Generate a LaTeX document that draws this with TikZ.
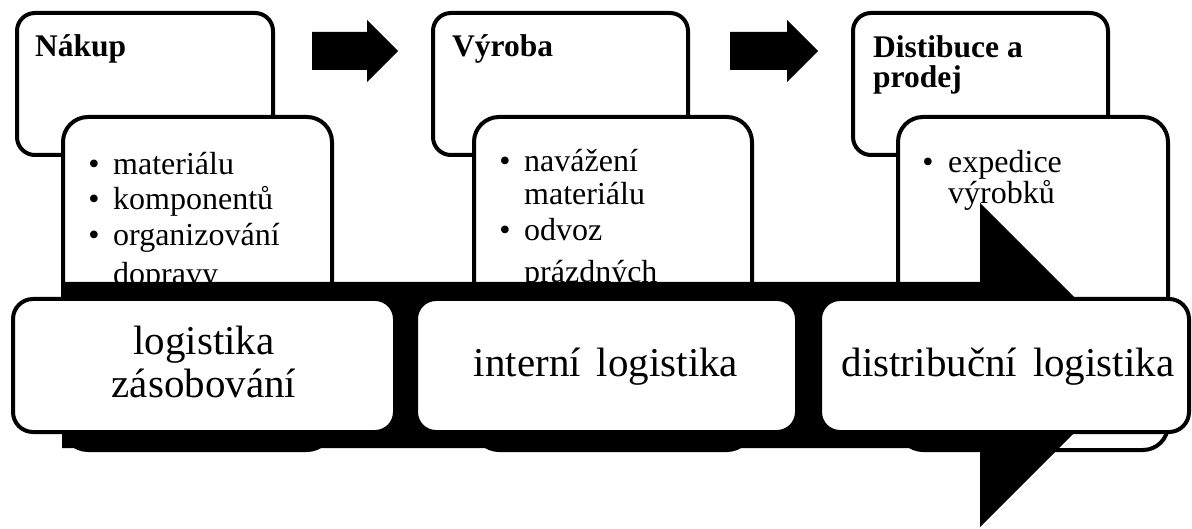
\documentclass[tikz,border=0pt]{standalone}
\usepackage{fontspec}
\setmainfont{Liberation Serif}
\begin{document}
\begin{tikzpicture}[x=1pt,y=-1pt,
  card/.style={draw=black,line width=4pt,fill=white,inner sep=0pt,outer sep=0pt},
  hdr/.style={card,rounded corners=18pt,minimum height=142pt},
  det/.style={card,rounded corners=25pt,minimum height=333pt},
  stage/.style={card,rounded corners=20pt,minimum height=133pt},
  blockarrow/.style={fill=black,draw=none},
  hdrtext/.style={anchor=base west,inner sep=0pt,font=\bfseries\fontsize{31.5}{30}\selectfont},
  bultext/.style={anchor=base west,inner sep=0pt,font=\fontsize{32}{33}\selectfont},
  bulmark/.style={anchor=base,inner sep=0pt,font=\fontsize{32}{33}\selectfont},
  stagetext/.style={anchor=base,inner sep=0pt,font=\fontsize{41}{43}\selectfont}]
\useasboundingbox (0,0) rectangle (1192,529);

% header boxes
\node[hdr,minimum width=256pt] (h1) at (145,84) {};
\node[hdr,minimum width=255pt] (h2) at (560.5,84) {};
\node[hdr,minimum width=255pt] (h3) at (980.5,84) {};
\node[hdrtext] (t1) at (35,57) {Nákup};
\node[hdrtext] (t2) at (452,57) {Výroba};
\node[hdrtext] (t3a) at (873,58) {Distibuce a};
\node[hdrtext] (t3b) at (873,88) {prodej};

% small block arrows between headers
\fill[blockarrow] (312,32) -- (367,32) -- (367,20) -- (398,51) -- (367,82) -- (367,70) -- (312,70) -- cycle;
\fill[blockarrow] (730,32) -- (787,32) -- (787,20) -- (818,51) -- (787,82) -- (787,70) -- (730,70) -- cycle;

% detail boxes
\node[det,minimum width=269pt] (d1) at (197.5,283.5) {};
\node[det,minimum width=278pt] (d2) at (613,283.5) {};
\node[det,minimum width=270pt] (d3) at (1033,283.5) {};

\node[bulmark] (m11) at (94,175) {•};
\node[bultext] (b11) at (113,175) {materiálu};
\node[bulmark] (m12) at (94,210) {•};
\node[bultext] (b12) at (113,210) {komponentů};
\node[bulmark] (m13) at (94,246) {•};
\node[bultext] (b13) at (113,246) {organizování};
\node[bultext] (b13b) at (113,285) {dopravy};

\node[bulmark] (m21) at (505,172) {•};
\node[bultext] (b21) at (524,172) {navážení};
\node[bultext] (b21b) at (524,205) {materiálu};
\node[bulmark] (m22) at (505,241) {•};
\node[bultext] (b22) at (524,241) {odvoz};
\node[bultext] (b22b) at (524,283) {prázdných};

\node[bulmark] (m31) at (928,173) {•};
\node[bultext] (b31) at (948,173) {expedice};
\node[bultext] (b31b) at (948,204) {výrobků};

% big process arrow
\fill[blockarrow] (62,282) -- (980,282) -- (980,203) -- (1142,365) -- (980,527) -- (980,448) -- (62,448) -- cycle;

% stage boxes
\node[stage,minimum width=382pt] (s1) at (204,365.5) {};
\node[stage,minimum width=381pt] (s2) at (606.5,365.5) {};
\node[stage,minimum width=369pt] (s3) at (1004.5,365.5) {};
\node[stagetext] (l1a) at (204,355) {logistika};
\node[stagetext] (l1b) at (204,398) {zásobování};
\node[stagetext] (l2) at (606,377) {interní\hspace{16pt}logistika};
\node[stagetext] (l3) at (1008,377) {distribuční\hspace{16pt}logistika};
\end{tikzpicture}
\end{document}
